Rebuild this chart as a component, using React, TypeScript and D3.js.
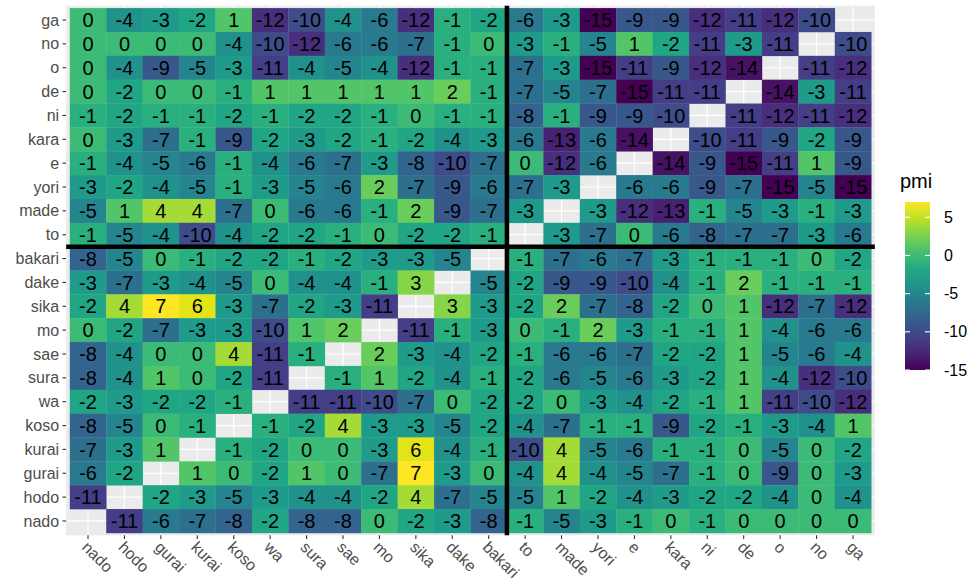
import React from "react";
import * as d3 from "d3";

const N = null;
const colLabels = ["nado","hodo","gurai","kurai","koso","wa","sura","sae","mo","sika","dake","bakari","to","made","yori","e","kara","ni","de","o","no","ga"];
const rowLabels = ["ga","no","o","de","ni","kara","e","yori","made","to","bakari","dake","sika","mo","sae","sura","wa","koso","kurai","gurai","hodo","nado"];

// pmi values, one array per row (columns in colLabels order)
const pmiRows: (number | null)[][] = [
  [0,-4,-3,-2,1,-12,-10,-4,-6,-12,-1,-2,-6,-3,-15,-9,-9,-12,-11,-12,-10,N], // ga
  [0,0,0,0,-4,-10,-12,-6,-6,-7,-1,0,-3,-1,-5,1,-2,-11,-3,-11,N,-10], // no
  [0,-4,-9,-5,-3,-11,-4,-5,-4,-12,-1,-1,-7,-3,-15,-11,-9,-12,-14,N,-11,-12], // o
  [0,-2,0,0,-1,1,1,1,1,1,2,-1,-7,-5,-7,-15,-11,-11,N,-14,-3,-11], // de
  [-1,-2,-1,-1,-2,-1,-2,-2,-1,0,-1,-1,-8,-1,-9,-9,-10,N,-11,-12,-11,-12], // ni
  [0,-3,-7,-1,-9,-2,-3,-2,-1,-2,-4,-3,-6,-13,-6,-14,N,-10,-11,-9,-2,-9], // kara
  [-1,-4,-5,-6,-1,-4,-6,-7,-3,-8,-10,-7,0,-12,-6,N,-14,-9,-15,-11,1,-9], // e
  [-3,-2,-4,-5,-1,-3,-5,-6,2,-7,-9,-6,-7,-3,N,-6,-6,-9,-7,-15,-5,-15], // yori
  [-5,1,4,4,-7,0,-6,-6,-1,2,-9,-7,-3,N,-3,-12,-13,-1,-5,-3,-1,-3], // made
  [-1,-5,-4,-10,-4,-2,-2,-1,0,-2,-2,-1,N,-3,-7,0,-6,-8,-7,-7,-3,-6], // to
  [-8,-5,0,-1,-2,-2,-1,-2,-3,-3,-5,N,-1,-7,-6,-7,-3,-1,-1,-1,0,-2], // bakari
  [-3,-7,-3,-4,-5,0,-4,-4,-1,3,N,-5,-2,-9,-9,-10,-4,-1,2,-1,-1,-1], // dake
  [-2,4,7,6,-3,-7,-2,-3,-11,N,3,-3,-2,2,-7,-8,-2,0,1,-12,-7,-12], // sika
  [0,-2,-7,-3,-3,-10,1,2,N,-11,-1,-3,0,-1,2,-3,-1,-1,1,-4,-6,-6], // mo
  [-8,-4,0,0,4,-11,-1,N,2,-3,-4,-2,-1,-6,-6,-7,-2,-2,1,-5,-6,-4], // sae
  [-8,-4,1,0,-2,-11,N,-1,1,-2,-4,-1,-2,-6,-5,-6,-3,-2,1,-4,-12,-10], // sura
  [-2,-3,-2,-2,-1,N,-11,-11,-10,-7,0,-2,-2,0,-3,-4,-2,-1,1,-11,-10,-12], // wa
  [-8,-5,0,-1,N,-1,-2,4,-3,-3,-5,-2,-4,-7,-1,-1,-9,-2,-1,-3,-4,1], // koso
  [-7,-3,1,N,-1,-2,0,0,-3,6,-4,-1,-10,4,-5,-6,-1,-1,0,-5,0,-2], // kurai
  [-6,-2,N,1,0,-2,1,0,-7,7,-3,0,-4,4,-4,-5,-7,-1,0,-9,0,-3], // gurai
  [-11,N,-2,-3,-5,-3,-4,-4,-2,4,-7,-5,-5,1,-2,-4,-3,-2,-2,-4,0,-4], // hodo
  [N,-11,-6,-7,-8,-2,-8,-8,0,-2,-3,-8,-1,-5,-3,-1,0,-1,0,0,0,0], // nado
];

const colorDomain = [-15, 7];
const legendBreaks = [5, 0, -5, -10, -15];
const splitCol = "to";
const splitRow = "bakari";

const FONT = "'Liberation Sans', Arial, Helvetica, sans-serif";

export default function App() {
  const W = 980, H = 580;
  const x = d3.scaleBand<string>().domain(colLabels).range([69.8, 871.2]).padding(0);
  const y = d3.scaleBand<string>().domain(rowLabels).range([8.1, 532.9]).padding(0);
  const bw = x.bandwidth(), bh = y.bandwidth();
  const px0 = x.range()[0] - 0.1 * bw, px1 = x.range()[1] + 0.1 * bw;
  const py0 = y.range()[0] - 0.1 * bh, py1 = y.range()[1] + 0.1 * bh;
  const color = d3.scaleSequential(d3.interpolateViridis).domain(colorDomain as [number, number]);

  const cells: { r: string; c: string; v: number }[] = [];
  pmiRows.forEach((row, i) => row.forEach((v, j) => {
    if (v !== null) cells.push({ r: rowLabels[i], c: colLabels[j], v });
  }));

  // legend
  const lx = 905, lw = 25;
  const ly = d3.scaleLinear().domain(colorDomain).range([370, 202]);
  const stops = d3.range(0, 11).map((k) => colorDomain[0] + (k / 10) * (colorDomain[1] - colorDomain[0]));

  return (
    <svg width={W} height={H} style={{ position: "absolute", left: 0, top: 0, background: "#fff" }} fontFamily={FONT}>
      <defs>
        <linearGradient id="pmiGrad" x1="0" y1="1" x2="0" y2="0">
          {stops.map((s, k) => (
            <stop key={k} offset={`${(k / 10) * 100}%`} stopColor={color(s)} />
          ))}
        </linearGradient>
      </defs>
      <rect x={px0} y={py0} width={px1 - px0} height={py1 - py0} fill="#EBEBEB" />
      {colLabels.map((c) => (
        <line key={"gx" + c} x1={x(c)! + bw / 2} x2={x(c)! + bw / 2} y1={py0} y2={py1} stroke="#fff" strokeWidth={1.2} />
      ))}
      {rowLabels.map((r) => (
        <line key={"gy" + r} y1={y(r)! + bh / 2} y2={y(r)! + bh / 2} x1={px0} x2={px1} stroke="#fff" strokeWidth={1.2} />
      ))}
      {cells.map((d) => (
        <rect key={d.r + "_" + d.c} x={x(d.c)!} y={y(d.r)!} width={bw + 0.3} height={bh + 0.3} fill={color(d.v)} />
      ))}
      {cells.map((d) => (
        <text key={"t" + d.r + "_" + d.c} x={x(d.c)! + bw / 2} y={y(d.r)! + bh / 2} dy="0.36em" textAnchor="middle" fontSize={20} fill="#000">
          {d.v}
        </text>
      ))}
      <line x1={x(splitCol)!} x2={x(splitCol)!} y1={py0} y2={py1} stroke="#000" strokeWidth={4.5} />
      <line y1={y(splitRow)!} y2={y(splitRow)!} x1={px0} x2={px1} stroke="#000" strokeWidth={4.5} />
      {/* y axis */}
      {rowLabels.map((r) => (
        <g key={"ya" + r}>
          <line x1={px0 - 3.7} x2={px0} y1={y(r)! + bh / 2} y2={y(r)! + bh / 2} stroke="#333" strokeWidth={1.1} />
          <text x={px0 - 7} y={y(r)! + bh / 2} dy="0.35em" textAnchor="end" fontSize={16} fill="#4D4D4D">{r}</text>
        </g>
      ))}
      {/* x axis */}
      {colLabels.map((c) => (
        <g key={"xa" + c}>
          <line x1={x(c)! + bw / 2} x2={x(c)! + bw / 2} y1={py1} y2={py1 + 3.7} stroke="#333" strokeWidth={1.1} />
          <text transform={`translate(${x(c)! + bw / 2 - 3},${py1 + 9}) rotate(45)`} dy="0.35em" textAnchor="start" fontSize={16} fill="#4D4D4D">{c}</text>
        </g>
      ))}
      {/* legend */}
      <text x={lx - 5} y={188} fontSize={20} fill="#000">pmi</text>
      <rect x={lx} y={ly(colorDomain[1])} width={lw} height={ly(colorDomain[0]) - ly(colorDomain[1])} fill="url(#pmiGrad)" />
      {legendBreaks.map((b) => (
        <g key={"lb" + b}>
          <line x1={lx} x2={lx + 5} y1={ly(b)} y2={ly(b)} stroke="#fff" strokeWidth={1.1} />
          <line x1={lx + lw - 5} x2={lx + lw} y1={ly(b)} y2={ly(b)} stroke="#fff" strokeWidth={1.1} />
          <text x={lx + lw + 14} y={ly(b)} dy="0.35em" fontSize={16} fill="#000">{b}</text>
        </g>
      ))}
    </svg>
  );
}
